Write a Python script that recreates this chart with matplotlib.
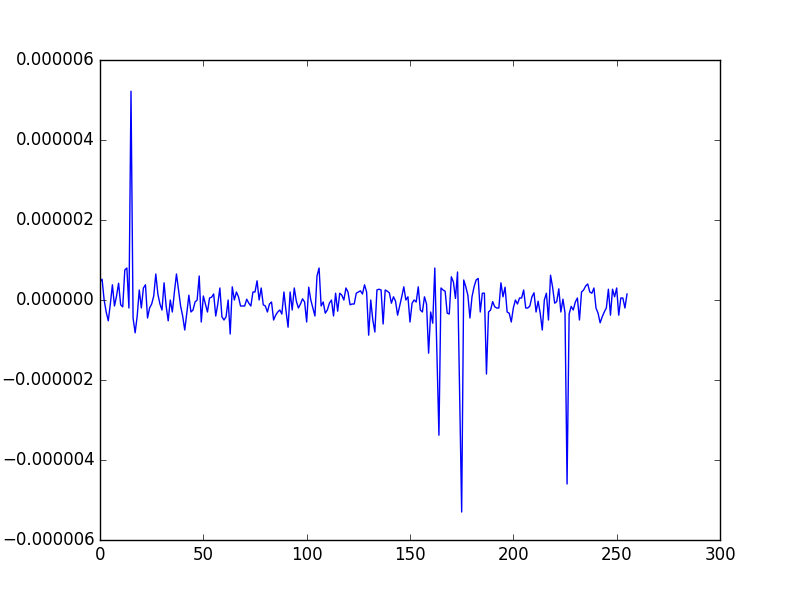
import matplotlib
matplotlib.use("Agg")
import matplotlib.pyplot as plt
import numpy as np

plt.style.use("classic")

# values in units of 1e-6
values_e6 = [
    0.45, 0.52, 0.0, -0.3, -0.52, -0.1, 0.38, -0.15, 0.1, 0.42, -0.12, -0.17, 0.75, 0.8, -0.2, 5.22,
    -0.45, -0.82, -0.4, 0.25, -0.2, 0.3, 0.38, -0.45, -0.2, -0.1, 0.1, 0.65, 0.15, -0.1, -0.25, 0.43,
    -0.15, -0.52, 0.0, -0.3, 0.2, 0.65, 0.25, -0.15, -0.4, -0.75, -0.33, 0.12, -0.3, -0.25, -0.05, 0.0,
    0.6, -0.55, 0.1, -0.1, -0.3, 0.05, 0.07, 0.15, -0.4, -0.1, 0.3, -0.42, -0.5, -0.42, 0.0, -0.85,
    0.33, 0.0, 0.2, 0.08, -0.15, -0.15, -0.15, 0.02, -0.08, -0.15, 0.2, 0.2, 0.48, 0.0, 0.3, -0.12,
    -0.15, -0.3, -0.1, -0.05, -0.5, -0.38, -0.3, -0.25, -0.35, 0.2, -0.27, -0.68, 0.2, -0.25, 0.3, -0.03,
    -0.2, -0.1, 0.03, -0.05, -0.55, 0.32, 0.0, -0.2, -0.4, 0.6, 0.8, -0.15, -0.05, -0.33, -0.25, -0.08,
    0.0, -0.4, 0.17, -0.28, 0.17, 0.12, 0.0, 0.3, 0.2, -0.12, -0.1, -0.1, 0.17, 0.2, 0.23, 0.15,
    0.38, 0.2, -0.88, 0.0, -0.5, -0.8, 0.25, 0.27, 0.25, -0.6, 0.25, 0.22, 0.18, -0.08, 0.08, -0.03,
    -0.38, -0.15, 0.08, 0.33, 0.0, 0.08, -0.55, -0.08, 0.0, -0.05, 0.33, -0.25, -0.3, 0.08, -0.1, -1.33,
    -0.3, -0.58, 0.8, -1.3, -3.38, 0.3, 0.25, 0.22, -0.33, -0.35, 0.58, 0.45, 0.04, 0.7, -2.3, -5.3,
    0.5, 0.33, 0.12, -0.45, 0.08, 0.33, 0.5, 0.54, -0.3, 0.17, 0.17, -1.85, -0.3, -0.25, -0.04, -0.17,
    -0.2, -0.2, 0.43, 0.08, 0.32, -0.3, -0.33, -0.55, -0.2, 0.0, -0.1, 0.05, 0.05, 0.25, -0.2, -0.2,
    -0.15, 0.08, 0.18, -0.3, -0.03, -0.33, -0.75, 0.0, 0.17, -0.5, 0.62, 0.32, -0.08, -0.04, 0.28, -0.3,
    0.02, -0.32, -4.6, -0.35, -0.16, -0.25, -0.05, 0.05, -0.5, 0.2, 0.25, 0.35, 0.4, 0.2, 0.17, 0.3,
    -0.2, -0.33, -0.57, -0.42, -0.3, -0.2, 0.27, -0.38, 0.27, 0.08, 0.3, -0.38, 0.05, 0.05, -0.2, 0.15,
]
scale = 1e-6
xticks = [0, 50, 100, 150, 200, 250, 300]
yticks = [-6e-6, -4e-6, -2e-6, 0.0, 2e-6, 4e-6, 6e-6]

y = np.array(values_e6) * scale
x = np.arange(len(y))

fig = plt.figure(figsize=(8, 6), dpi=100)
ax = fig.add_axes([0.125, 0.1, 0.775, 0.8])
ax.plot(x, y, color="b", linewidth=1.0)
ax.set_xlim(0, 300)
ax.set_ylim(-6e-6, 6e-6)
ax.set_xticks(xticks)
ax.set_yticks(yticks)
ax.set_yticklabels([("%.6f" % v).replace("-", "\u2212") for v in yticks])

fig.savefig("out.png", dpi=100, facecolor="white")
